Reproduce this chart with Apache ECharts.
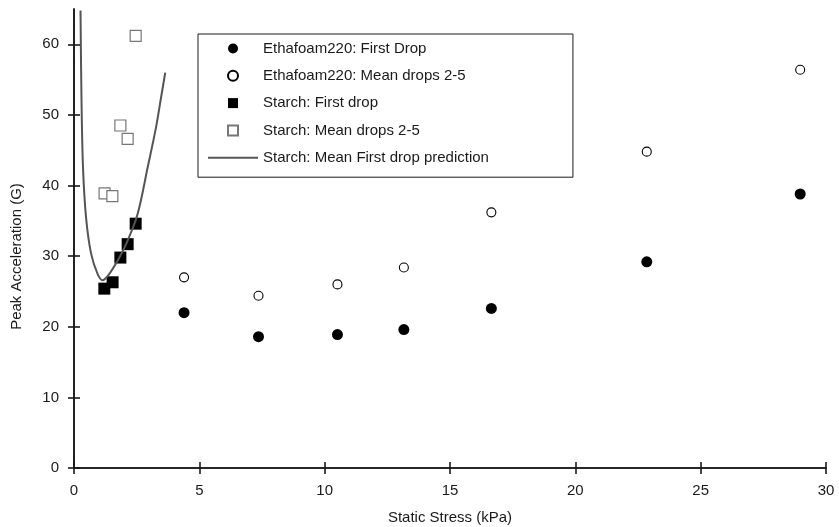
<!DOCTYPE html>
<html>
<head>
<meta charset="utf-8">
<style>
  html, body { margin: 0; padding: 0; background: #fff; }
  #chart { width: 839px; height: 527px; }
</style>
<script src="https://cdn.jsdelivr.net/npm/echarts@6/dist/echarts.min.js"></script>
</head>
<body>
<div id="chart"></div>
<script>
// Static stress (kPa) and peak acceleration (G) for each test
const ethafoamStress = [4.39, 7.36, 10.51, 13.16, 16.65, 22.85, 28.97];
const ethafoamFirst = [22.0, 18.6, 18.9, 19.6, 22.6, 29.2, 38.8];
const ethafoamMean = [27.0, 24.4, 26.0, 28.4, 36.2, 44.8, 56.4];

const starchStress = [1.21, 1.54, 1.85, 2.14, 2.46];
const starchFirst = [25.4, 26.3, 29.8, 31.7, 34.6];
const starchMeanStress = [1.22, 1.53, 1.85, 2.14, 2.46];
const starchMean = [38.9, 38.5, 48.5, 46.6, 61.2];

// Prediction curve for starch, first drop
const predStress = [0.26, 0.30, 0.36, 0.48, 0.68, 0.94, 1.14, 1.41, 1.81, 2.14, 2.54, 2.94, 3.27, 3.47, 3.64];
const predAccel = [64.8, 52.0, 42.5, 35.5, 30.4, 27.5, 26.6, 27.5, 29.8, 32.2, 36.0, 42.6, 48.2, 52.4, 56.0];

const xTicks = [0, 5, 10, 15, 20, 25, 30];
const yTicks = [0, 10, 20, 30, 40, 50, 60];

const seriesNames = [
  'Ethafoam220: First Drop',
  'Ethafoam220: Mean drops 2-5',
  'Starch: First drop',
  'Starch: Mean drops 2-5',
  'Starch: Mean First drop prediction'
];

const zip = (xs, ys) => xs.map((x, i) => [x, ys[i]]);

const FONT = '"Liberation Sans", Arial, Helvetica, sans-serif';
const INK = '#1a1a1a';
const FS = 15;

const axisLine = { show: true, lineStyle: { color: INK, width: 1.6 } };
const axisTick = { show: true, inside: true, length: 6, lineStyle: { color: INK, width: 1.6 } };

// square legend glyph that keeps its aspect inside the icon box
const SQUARE = 'path://M0,0H10V10H0Z';
const BAR = 'path://M0,0H50V2H0Z';

const chart = echarts.init(document.getElementById('chart'), null, { renderer: 'canvas' });

chart.setOption({
  animation: false,
  backgroundColor: '#fff',
  textStyle: { fontFamily: FONT },
  grid: { left: 74, right: 13, top: 9, bottom: 59, containLabel: false, outerBoundsMode: 'none' },
  legend: {
    orient: 'vertical',
    left: 198,
    top: 34,
    padding: [7, 84, 12, 10],
    borderColor: INK,
    borderWidth: 1,
    itemWidth: 50,
    itemHeight: 10,
    itemGap: 12.3,
    symbolKeepAspect: true,
    textStyle: { fontFamily: FONT, fontSize: FS, color: INK },
    selectedMode: false,
    data: [
      { name: seriesNames[0], icon: 'circle' },
      { name: seriesNames[1], icon: 'circle' },
      { name: seriesNames[2], icon: SQUARE },
      { name: seriesNames[3], icon: SQUARE },
      { name: seriesNames[4], icon: BAR }
    ]
  },
  xAxis: [
    {
      type: 'value', position: 'bottom', min: 0, max: 30, interval: 5,
      name: 'Static Stress (kPa)', nameLocation: 'middle', nameGap: 42,
      nameTextStyle: { fontFamily: FONT, fontSize: FS, color: INK },
      axisLine, axisTick,
      axisLabel: {
        margin: 15, fontFamily: FONT, fontSize: FS, color: INK,
        customValues: xTicks
      },
      splitLine: { show: false }
    },
    {
      type: 'value', position: 'top', min: 0, max: 30, interval: 5,
      axisLine, axisTick, axisLabel: { show: false }, splitLine: { show: false }
    }
  ],
  yAxis: [
    {
      type: 'value', position: 'left', min: 0, max: 65, interval: 10,
      name: 'Peak Acceleration (G)', nameLocation: 'middle', nameGap: 50,
      nameTextStyle: { fontFamily: FONT, fontSize: FS, color: INK, padding: [0, 36, 0, 0] },
      axisLine, axisTick: Object.assign({}, axisTick, { customValues: yTicks }),
      axisLabel: {
        margin: 15, fontFamily: FONT, fontSize: FS, color: INK,
        customValues: yTicks
      },
      splitLine: { show: false }
    },
    {
      type: 'value', position: 'right', min: 0, max: 65, interval: 10,
      axisLine, axisTick: Object.assign({}, axisTick, { customValues: yTicks }),
      axisLabel: { show: false }, splitLine: { show: false }
    }
  ],
  series: [
    {
      name: seriesNames[0], type: 'scatter',
      data: zip(ethafoamStress, ethafoamFirst),
      symbol: 'circle', symbolSize: 11,
      itemStyle: { color: '#000', opacity: 1 }
    },
    {
      name: seriesNames[1], type: 'scatter',
      data: zip(ethafoamStress, ethafoamMean),
      symbol: 'circle', symbolSize: 9,
      itemStyle: { color: '#fff', borderColor: '#000', borderWidth: 1.1, opacity: 1 }
    },
    {
      name: seriesNames[2], type: 'scatter',
      data: zip(starchStress, starchFirst),
      symbol: 'rect', symbolSize: 12,
      itemStyle: { color: '#000', opacity: 1 }
    },
    {
      name: seriesNames[3], type: 'scatter',
      data: zip(starchMeanStress, starchMean),
      symbol: 'rect', symbolSize: 11,
      itemStyle: { color: '#fff', borderColor: '#777', borderWidth: 1.2, opacity: 1 }
    },
    {
      name: seriesNames[4], type: 'line',
      data: zip(predStress, predAccel),
      showSymbol: false, symbol: 'none',
      smooth: 0.35,
      clip: true,
      lineStyle: { color: '#555', width: 2 },
      itemStyle: { color: '#555' },
      z: 3
    }
  ]
});
</script>
</body>
</html>
